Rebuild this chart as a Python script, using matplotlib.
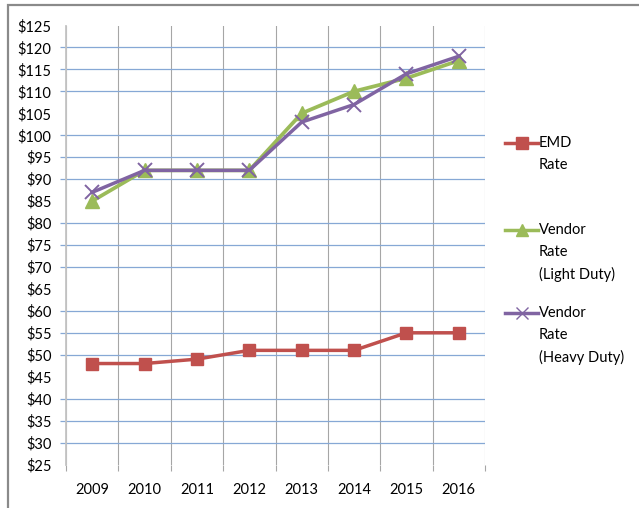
import matplotlib
matplotlib.use("Agg")
import matplotlib.pyplot as plt
from matplotlib.lines import Line2D
from matplotlib.patches import Rectangle

# values
years = ["2009", "2010", "2011", "2012", "2013", "2014", "2015", "2016"]
emd_rate = [48, 48, 49, 51, 51, 51, 55, 55]
vendor_light = [85, 92, 92, 92, 105, 110, 113, 117]
vendor_heavy = [87, 92, 92, 92, 103, 107, 114, 118]
y_ticks = list(range(25, 130, 5))
# levels whose gridline does not show in the reference
hidden_grid = [25, 45, 65, 85, 105, 125]

RED = "#c0504d"
GREEN = "#9bbb59"
PURPLE = "#8064a2"
HGRID = "#86a8d5"
VGRID = "#a6a6a6"
AXIS = "#c4c4c4"
FONT = "Lato"

plt.rcParams.update({
    "font.family": FONT,
    "font.size": 10.5,
})

W, H = 639, 508
fig = plt.figure(figsize=(W / 100, H / 100), dpi=100)
ax = fig.add_axes([66 / W, 1 - 464.5 / H, (485 - 66) / W, (464.5 - 25.5) / H])

x = list(range(len(years)))
ax.plot(x, emd_rate, color=RED, linewidth=2.5, marker="s", markersize=9,
        zorder=3, label="EMD Rate")
ax.plot(x, vendor_light, color=GREEN, linewidth=2.7, marker="^", markersize=10,
        zorder=4, label="Vendor Rate (Light Duty)")
ax.plot(x, vendor_heavy, color=PURPLE, linewidth=2.5, marker="x", markersize=10,
        markeredgewidth=1.4, zorder=5, label="Vendor Rate (Heavy Duty)")

ax.set_xlim(-0.5, len(years) - 0.5)
ax.set_ylim(25, 125)
ax.set_xticks(x)
ax.set_xticklabels(years)
ax.set_xticks([i - 0.5 for i in range(len(years) + 1)], minor=True)
ax.set_yticks(y_ticks)
ax.set_yticklabels([f"${v}" for v in y_ticks])
# minor y ticks carry the visible gridlines; keep them even where they sit on majors
ax.yaxis.remove_overlapping_locs = False
ax.set_yticks([v for v in y_ticks if v not in hidden_grid], minor=True)

ax.tick_params(axis="x", which="major", length=0, pad=13, labelcolor="black")
ax.tick_params(axis="x", which="minor", length=4.3, width=0.8, color=VGRID, direction="out")
ax.tick_params(axis="y", which="major", length=4.3, width=0, pad=6, labelcolor="black")
ax.tick_params(axis="y", which="minor", length=4.3, width=0.9, color=HGRID)

ax.grid(True, axis="x", which="minor", color=VGRID, linewidth=0.8, zorder=0)
ax.grid(True, axis="y", which="minor", color=HGRID, linewidth=0.9, zorder=0)
ax.set_axisbelow(True)

for spine in ("top", "right", "bottom"):
    ax.spines[spine].set_visible(False)
ax.spines["left"].set_color(AXIS)
ax.spines["left"].set_linewidth(1.3)

# legend drawn by hand so the key sits on the first text line
legend_rows = [
    (RED, "s", 9, 143, ["EMD", "Rate"]),
    (GREEN, "^", 9, 230, ["Vendor", "Rate", "(Light Duty)"]),
    (PURPLE, "x", 9, 313, ["Vendor", "Rate", "(Heavy Duty)"]),
]
for color, marker, ms, ypx, lines in legend_rows:
    yf = 1 - ypx / H
    fig.add_artist(Line2D([505 / W, 521.5 / W, 538 / W], [yf, yf, yf],
                          transform=fig.transFigure, color=color, linewidth=2.5,
                          marker=marker, markersize=ms, markevery=[1],
                          markeredgewidth=1.0))
    for k, line in enumerate(lines):
        fig.text(539 / W, 1 - (ypx + 22.3 * k) / H, line, ha="left", va="center",
                 fontsize=10.5, color="black")

# outer frame of the original chart object (cropped at right and bottom)
fig.add_artist(Rectangle((8 / W, -0.2), 2, 1.2 - 4.5 / H, transform=fig.transFigure,
                         fill=False, edgecolor="#8a8a8a", linewidth=1.6))

fig.savefig("out.png", dpi=100)
